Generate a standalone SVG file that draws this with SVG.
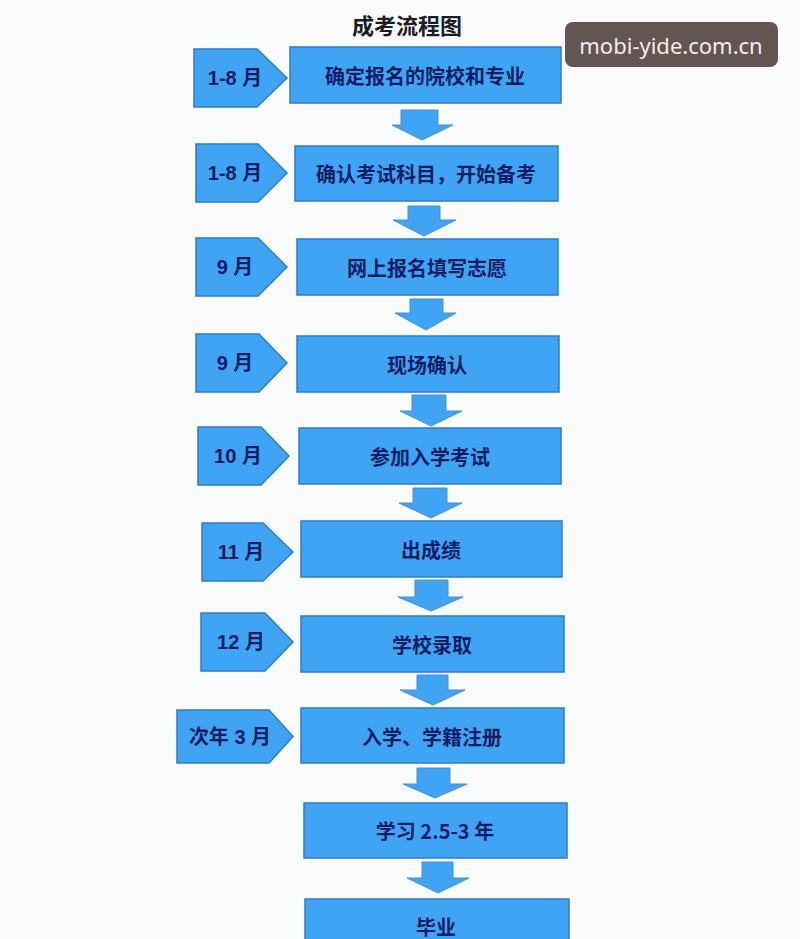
<svg xmlns="http://www.w3.org/2000/svg" width="800" height="939" viewBox="0 0 800 939">
<style>
.bx{fill:#3fa4f4;stroke:#2e7cc4;stroke-width:1.5}
.ar{fill:#3fa4f4;stroke:#4a8fcf;stroke-width:1}
.t{font-family:"Noto Sans CJK SC","Liberation Sans",sans-serif;font-weight:bold;font-size:20px;fill:#131d64;text-anchor:middle;dominant-baseline:central}
.m{font-family:"Liberation Sans","Noto Sans CJK SC",sans-serif;font-weight:bold;font-size:20px;fill:#131d64;text-anchor:middle;dominant-baseline:central}
</style>
<rect width="800" height="939" fill="#f9fbfd"/>
<text x="407" y="24" font-family="Noto Sans CJK SC, sans-serif" font-weight="bold" font-size="22" fill="#1c1c24" text-anchor="middle" dominant-baseline="central">成考流程图</text>
<g id="connectors">
<polygon class="ar" points="401,110 438,110 438,125 453,125 422,140 392,125 401,125"/>
<polygon class="ar" points="408,206 440,206 440,220 456,220 424,236 393,220 408,220"/>
<polygon class="ar" points="410,299 443,299 443,313 456,313 426,330 395,313 410,313"/>
<polygon class="ar" points="412,395 446,395 446,411 462,411 431,426 400,411 412,411"/>
<polygon class="ar" points="413,488 447,488 447,503 462,503 431,518 399,503 413,503"/>
<polygon class="ar" points="415,580 448,580 448,597 463,597 431,611 398,597 415,597"/>
<polygon class="ar" points="417,675 448,675 448,690 465,690 433,705 400,690 417,690"/>
<polygon class="ar" points="417,768 450,768 450,784 467,784 435,798 403,784 417,784"/>
<polygon class="ar" points="422,862 453,862 453,878 469,878 438,893 407,878 422,878"/>
</g>
<g id="m1"><polygon class="bx" points="194,49 257,49 287,78 257,107 194,107"/><text class="m" x="235" y="78">1-8 月</text></g>
<g id="m2"><polygon class="bx" points="196,144 258,144 287,173 258,202 196,202"/><text class="m" x="235" y="173">1-8 月</text></g>
<g id="m3"><polygon class="bx" points="196,238 258,238 287,267 258,296 196,296"/><text class="m" x="235" y="267">9 月</text></g>
<g id="m4"><polygon class="bx" points="196,334 259,334 287,363 259,392 196,392"/><text class="m" x="235" y="363">9 月</text></g>
<g id="m5"><polygon class="bx" points="198,427 261,427 289,456 261,485 198,485"/><text class="m" x="238" y="456">10 月</text></g>
<g id="m6"><polygon class="bx" points="202,523 263,523 293,552 263,581 202,581"/><text class="m" x="241" y="552">11 月</text></g>
<g id="m7"><polygon class="bx" points="201,613 265,613 293,642 265,671 201,671"/><text class="m" x="241" y="642">12 月</text></g>
<g id="m8"><polygon class="bx" points="177,710 269,710 293,736.5 269,763 177,763"/><text class="m" x="230" y="737">次年 3 月</text></g>
<g id="s1"><rect class="bx" x="290" y="47" width="271" height="56"/><text class="t" x="425" y="75">确定报名的院校和专业</text></g>
<g id="s2"><rect class="bx" x="295" y="146" width="263" height="55"/><text class="t" x="426" y="173.5">确认考试科目，开始备考</text></g>
<g id="s3"><rect class="bx" x="297" y="239" width="261" height="56"/><text class="t" x="427" y="267">网上报名填写志愿</text></g>
<g id="s4"><rect class="bx" x="297" y="336" width="262" height="56"/><text class="t" x="427" y="364">现场确认</text></g>
<g id="s5"><rect class="bx" x="299" y="428" width="262" height="56"/><text class="t" x="430" y="456">参加入学考试</text></g>
<g id="s6"><rect class="bx" x="301" y="521" width="261" height="56"/><text class="t" x="431" y="549">出成绩</text></g>
<g id="s7"><rect class="bx" x="301" y="616" width="263" height="56"/><text class="t" x="432" y="644">学校录取</text></g>
<g id="s8"><rect class="bx" x="301" y="708" width="263" height="55"/><text class="t" x="432" y="736">入学、学籍注册</text></g>
<g id="s9"><rect class="bx" x="304" y="803" width="263" height="55"/><text class="t" x="435" y="830">学习 2.5-3 年</text></g>
<g id="s10"><rect class="bx" x="305" y="899" width="264" height="60"/><text class="t" x="436" y="926">毕业</text></g>
<g id="watermark"><rect x="565" y="22" width="213" height="45" rx="8" fill="#635552"/><text x="671" y="45" font-family="Noto Sans, Open Sans, sans-serif" font-size="22" fill="#f3ecef" text-anchor="middle" dominant-baseline="central">mobi-yide.com.cn</text></g>
</svg>
